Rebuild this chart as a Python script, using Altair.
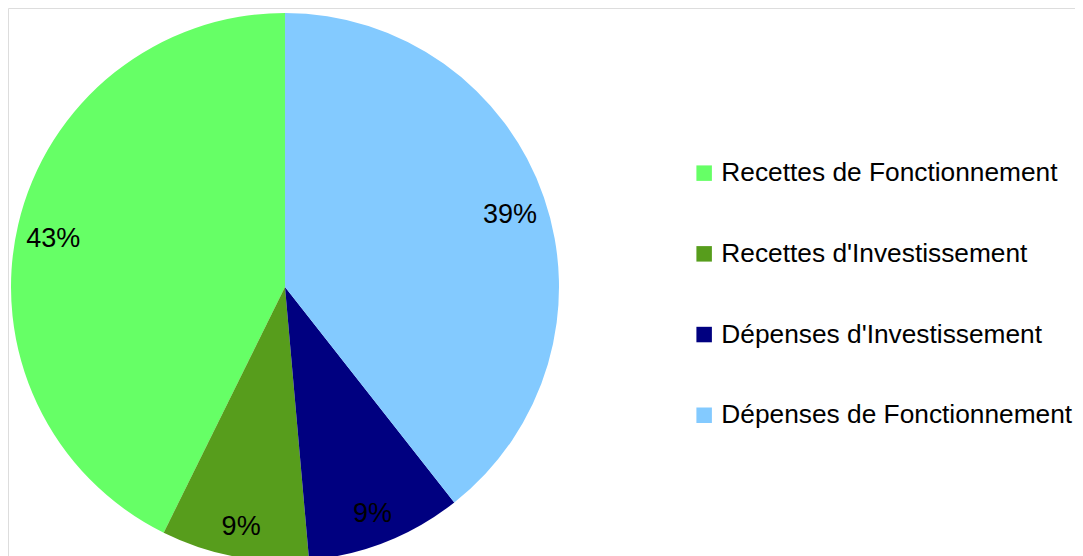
import altair as alt
import pandas as pd

categories = ["Recettes de Fonctionnement", "Recettes d'Investissement",
              "Dépenses d'Investissement", "Dépenses de Fonctionnement"]
values = [42.7, 8.7, 9.2, 39.4]
# drawing order, clockwise from 12 o'clock
draw_order = [4, 3, 2, 1]
colors = ["#66ff66", "#579d1c", "#000080", "#83caff"]

df = pd.DataFrame({"cat": categories, "value": values, "ord": draw_order})

base = alt.Chart(df).transform_joinaggregate(
    total="sum(value)"
).transform_calculate(
    pct="datum.value / datum.total"
).encode(
    theta=alt.Theta("value:Q", stack=True),
    order=alt.Order("ord:Q", sort="ascending"),
)

arcs = base.mark_arc(outerRadius=274, stroke=None).encode(
    x=alt.value(277),
    y=alt.value(279),
    color=alt.Color(
        "cat:N",
        scale=alt.Scale(domain=categories, range=colors),
        legend=alt.Legend(
            title=None,
            orient="none",
            legendX=683,
            legendY=152,
            symbolType="square",
            symbolSize=240,
            symbolStrokeWidth=0,
            labelFont="Liberation Sans",
            labelFontSize=26.3,
            labelColor="#000000",
            labelOffset=4,
            rowPadding=53.7,
            labelLimit=500,
            padding=0,
        ),
    ),
)

labels = base.mark_text(
    radius=238, dy=6, font="Liberation Sans", fontSize=27, color="#000000"
).encode(
    x=alt.value(277),
    y=alt.value(279),
    text=alt.Text("pct:Q", format=".0%"),
)

chart = alt.layer(arcs, labels).properties(
    width=1067,
    height=548,
    autosize=alt.AutoSizeParams(type="none"),
    padding=0,
).configure_view(stroke=None).configure(background="#ffffff")

chart.save("out.html", embed_options={"renderer": "svg", "actions": False})
